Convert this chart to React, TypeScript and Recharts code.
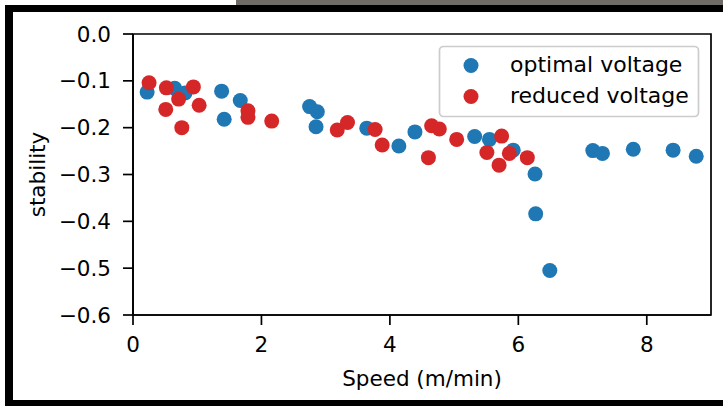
import React from 'react';
import { ScatterChart, Scatter, XAxis, YAxis, ReferenceArea, Label } from 'recharts';

// Data
const optimalSpeed = [0.22, 0.65, 0.81, 1.38, 1.42, 1.67, 2.75, 2.87, 2.85, 3.64, 4.14, 4.39, 5.32, 5.55, 5.92, 6.26, 6.27, 6.49, 7.16, 7.31, 7.79, 8.41, 8.77];
const optimalStability = [-0.124, -0.116, -0.126, -0.122, -0.182, -0.142, -0.155, -0.166, -0.198, -0.201, -0.239, -0.209, -0.219, -0.225, -0.248, -0.299, -0.384, -0.505, -0.249, -0.255, -0.246, -0.248, -0.261];

const reducedSpeed = [0.25, 0.52, 0.71, 0.51, 0.94, 1.03, 0.76, 1.79, 1.79, 2.16, 3.18, 3.34, 3.77, 3.88, 4.65, 4.77, 4.6, 5.04, 5.51, 5.74, 5.86, 5.7, 6.14];
const reducedStability = [-0.104, -0.115, -0.139, -0.161, -0.113, -0.152, -0.2, -0.164, -0.178, -0.186, -0.205, -0.189, -0.204, -0.237, -0.196, -0.203, -0.264, -0.225, -0.253, -0.218, -0.255, -0.28, -0.264];

const seriesNames = ['optimal voltage', 'reduced voltage'];
const seriesColors = ['#1f77b4', '#d62728'];

const xTicks = [0, 2, 4, 6, 8];
const yTicks = [0, -0.1, -0.2, -0.3, -0.4, -0.5, -0.6];
const xDomain = [0, 9];
const yDomain = [-0.6, 0];

const xTitle = 'Speed (m/min)';
const yTitle = 'stability';

const FONT = "'DejaVu Sans', sans-serif";
const FS = 21.5;
const R = 7.5;

const toPoints = (xs: number[], ys: number[]) => xs.map((x, i) => ({ speed: x, stability: ys[i] }));
const optimalData = toPoints(optimalSpeed, optimalStability);
const reducedData = toPoints(reducedSpeed, reducedStability);

const fmtY = (v: number) => (Math.abs(v) < 1e-9 ? '0.0' : (v < 0 ? '\u2212' : '') + Math.abs(v).toFixed(1));

const dot = (color: string) => (props: any) => (
  <circle cx={props.cx} cy={props.cy} r={R} fill={color} />
);

const YTitle = (props: any) => {
  const vb = props.viewBox || { x: 0, y: 0, width: 0, height: 0 };
  const cx = vb.x + 37;
  const cy = vb.y + vb.height / 2;
  return (
    <text
      x={cx}
      y={cy}
      transform={`rotate(-90, ${cx}, ${cy})`}
      textAnchor="middle"
      dominantBaseline="central"
      fill="#000"
      fontSize={FS}
      fontFamily={FONT}
    >
      {yTitle}
    </text>
  );
};

export default function App() {
  const axisStroke = { stroke: '#000', strokeWidth: 1.7 };
  const tickStyle = { fill: '#000', fontSize: FS, fontFamily: FONT };
  return (
    <div style={{ position: 'absolute', left: 0, top: 0, width: 723, height: 406, background: '#fff', overflow: 'hidden' }}>
      <ScatterChart width={723} height={406} margin={{ top: 34, right: 12, left: 0, bottom: 0 }}>
        <XAxis
          dataKey="speed"
          type="number"
          domain={xDomain}
          ticks={xTicks}
          allowDataOverflow
          height={91}
          tickSize={10}
          tickMargin={12}
          axisLine={axisStroke}
          tickLine={axisStroke}
          tick={tickStyle}
        >
          <Label value={xTitle} position="insideBottom" offset={20} fill="#000" fontSize={FS} fontFamily={FONT} />
        </XAxis>
        <YAxis
          dataKey="stability"
          type="number"
          domain={yDomain}
          ticks={yTicks}
          allowDataOverflow
          width={133}
          tickSize={10}
          tickMargin={12}
          axisLine={axisStroke}
          tickLine={axisStroke}
          tick={tickStyle}
          tickFormatter={fmtY}
        >
          <Label content={YTitle} />
        </YAxis>
        <ReferenceArea x1={xDomain[0]} x2={xDomain[1]} y1={yDomain[0]} y2={yDomain[1]} fill="none" stroke="#000" strokeWidth={1.7} fillOpacity={0} />
        <Scatter name={seriesNames[0]} data={optimalData} fill={seriesColors[0]} shape={dot(seriesColors[0])} isAnimationActive={false} />
        <Scatter name={seriesNames[1]} data={reducedData} fill={seriesColors[1]} shape={dot(seriesColors[1])} isAnimationActive={false} />
      </ScatterChart>
      <svg width={723} height={406} style={{ position: 'absolute', left: 0, top: 0, pointerEvents: 'none' }}>
        {/* photo frame */}
        <rect x={236} y={0} width={487} height={5} fill="#6f6b66" />
        <rect x={5} y={5} width={718} height={7} fill="#000" />
        <rect x={5} y={5} width={8} height={401} fill="#000" />
        <rect x={5} y={400} width={718} height={6} fill="#000" />
        {/* legend */}
        <rect x={439.5} y={46.5} width={259} height={70} rx={4} ry={4} fill="#fff" fillOpacity={0.8} stroke="#cccccc" strokeWidth={1.7} />
        {seriesNames.map((name, i) => (
          <g key={name}>
            <circle cx={471} cy={65.5 + i * 31} r={R} fill={seriesColors[i]} />
            <text x={510} y={72 + i * 31} fill="#000" fontSize={22} fontFamily={FONT}>
              {name}
            </text>
          </g>
        ))}
      </svg>
    </div>
  );
}
